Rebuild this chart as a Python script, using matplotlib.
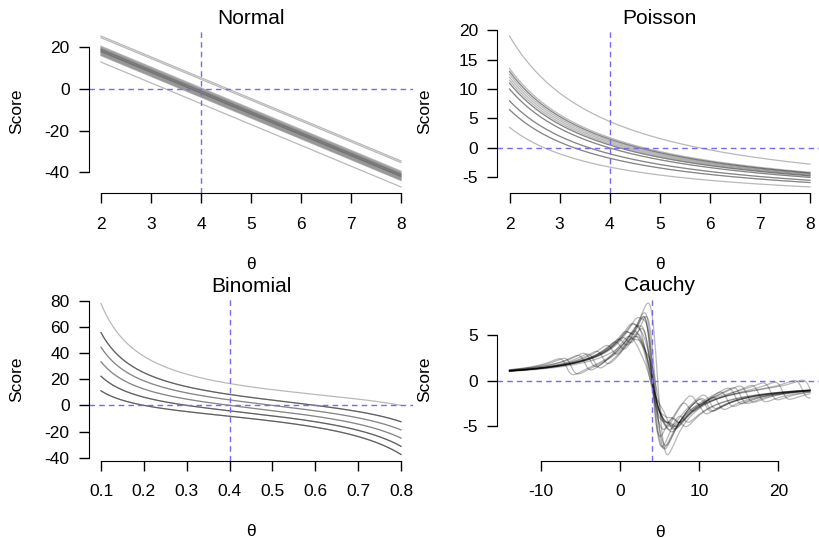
import numpy as np
import matplotlib.pyplot as plt

plt.rcParams['font.family'] = ['Liberation Sans', 'DejaVu Sans']
plt.rcParams['font.size'] = 12.5
plt.rcParams['axes.unicode_minus'] = False

# each panel: 10 observations per simulated sample, true value marked by the dashed lines
n_obs = 10

# Normal: sample means of each simulated sample (sigma = 1)
normal_means = [4.55, 4.47, 4.06, 4.01, 3.97, 3.93, 3.91, 3.88, 3.85, 3.82,
                3.80, 3.77, 3.73, 3.69, 3.65, 3.61, 3.30]
normal_theta0 = 4

# Poisson: sample totals of each simulated sample
poisson_sums = [58, 47, 46, 46, 45, 44, 43, 42, 42, 40, 40, 36, 36, 33, 33, 27]
poisson_theta0 = 4

# Binomial: number of successes out of 10 trials, one per sample
binom_successes = [8, 6, 6, 6, 5, 5, 4, 4, 3, 3, 3, 2, 2, 2]
binom_theta0 = 0.4

# Cauchy: raw samples (scale = 1)
cauchy_samples = [
    [3.7, 3.9, 4.0, 4.1, 4.2, 4.4, 4.6, 5.0, -6.2, 19.0],
    [1.5, 2.8, 3.6, 4.0, 4.4, 4.9, 6.1, 3.2, 11.3, -3.8],
    [2.6, 3.1, 3.7, 4.1, 4.3, 4.8, 5.5, 6.7, 0.4, 15.2],
    [3.5, 3.8, 3.9, 4.0, 4.1, 4.3, 4.5, 4.8, 1.2, 8.0],
    [2.2, 2.9, 3.5, 4.1, 4.7, 5.3, 6.4, 14.5, -4.5, 3.9],
    [3.6, 3.9, 4.0, 4.2, 4.4, 4.6, 4.9, 5.4, 2.5, 10.8],
    [1.8, 2.5, 3.2, 3.8, 4.1, 4.9, 5.7, 6.3, 23.0, -1.0],
    [3.9, 4.0, 4.2, 4.3, 4.5, 4.7, 4.8, 5.1, 11.0, 0.9],
    [2.7, 3.3, 4.0, 4.2, 4.5, 5.6, 6.9, 16.0, -6.8, 3.0],
    [3.4, 3.8, 4.1, 4.3, 4.8, 5.2, 6.0, 7.8, 1.9, 2.8],
    [2.3, 3.0, 3.9, 4.4, 4.6, 5.0, 5.5, 12.4, 9.5, -2.2],
    [3.1, 3.6, 3.9, 4.2, 4.5, 5.1, 6.6, 20.5, 1.4, 4.0],
    [3.6, 3.8, 3.9, 4.0, 4.1, 4.2, 4.4, 7.0, -3.3, 24.0],
    [3.3, 3.7, 4.0, 4.3, 4.9, 5.4, 6.2, 10.2, 2.0, 3.5],
    [2.4, 3.2, 3.5, 4.1, 4.4, 4.8, 5.6, 8.6, 0.0, 13.5],
    [4.1, 4.3, 4.5, 4.6, 4.7, 4.8, 5.0, 5.2, 5.5, 17.5],
]
cauchy_theta0 = 4

line_col = (0, 0, 0, 0.28)
ref_col = '#7b68ee'
W, H = 819, 538


def rect(left, right, top, bottom):
    return [left / W, 1 - bottom / H, (right - left) / W, (bottom - top) / H]


def r_style(ax, xticks, yticks, title, xs, ys, theta0):
    # R-like: 4% padding, axes only over the tick range, no box
    x0, x1 = min(xs), max(xs)
    y0, y1 = min(ys), max(ys)
    dx, dy = 0.04 * (x1 - x0), 0.04 * (y1 - y0)
    ax.set_xlim(x0 - dx, x1 + dx)
    ax.set_ylim(y0 - dy, y1 + dy)
    ax.axhline(0, color=ref_col, ls=(0, (4, 3)), lw=1)
    ax.axvline(theta0, color=ref_col, ls=(0, (4, 3)), lw=1)
    ax.set_xticks(xticks)
    ax.set_yticks(yticks)
    ax.spines['top'].set_visible(False)
    ax.spines['right'].set_visible(False)
    ax.spines['left'].set_bounds(yticks[0], yticks[-1])
    ax.spines['bottom'].set_bounds(xticks[0], xticks[-1])
    ax.tick_params(axis='x', length=7, width=1, pad=10)
    ax.tick_params(axis='y', length=7, width=1, pad=7)
    ax.set_title(title, fontsize=15, pad=4)
    ax.set_ylabel('Score')
    ax.yaxis.set_label_coords(-0.2, 0.5)
    ax.set_xlabel('θ')
    ax.xaxis.set_label_coords(0.5, -0.39)


fig = plt.figure(figsize=(W / 100, H / 100), dpi=100)

# Normal
ax = fig.add_axes(rect(89, 413, 30, 193))
th = np.linspace(2, 8, 200)
ys = []
for m in normal_means:
    s = n_obs * (m - th)
    ax.plot(th, s, color=line_col, lw=0.9)
    ys += [s.min(), s.max()]
r_style(ax, np.arange(2, 9), [-40, -20, 0, 20], 'Normal', th, ys, normal_theta0)

# Poisson
ax = fig.add_axes(rect(497.5, 822, 30, 193))
ys = []
for tot in poisson_sums:
    s = tot / th - n_obs
    ax.plot(th, s, color=line_col, lw=0.9)
    ys += [s.min(), s.max()]
r_style(ax, np.arange(2, 9), [-5, 0, 5, 10, 15, 20], 'Poisson', th, ys, poisson_theta0)

# Binomial
ax = fig.add_axes(rect(89, 413, 297.5, 460.5))
tb = np.linspace(0.1, 0.8, 200)
ys = []
for k in binom_successes:
    s = k / tb - (n_obs - k) / (1 - tb)
    ax.plot(tb, s, color=line_col, lw=0.9)
    ys += [s.min(), s.max()]
r_style(ax, [0.1, 0.2, 0.3, 0.4, 0.5, 0.6, 0.7, 0.8], [-40, -20, 0, 20, 40, 60, 80],
        'Binomial', tb, ys, binom_theta0)

# Cauchy
ax = fig.add_axes(rect(497.5, 822, 297, 460.7))
tc = np.linspace(-14, 24, 600)
ys = []
for smp in cauchy_samples:
    d = np.array(smp)[:, None] - tc[None, :]
    s = (2 * d / (1 + d ** 2)).sum(axis=0)
    ax.plot(tc, s, color=line_col, lw=0.9)
    ys += [s.min(), s.max()]
r_style(ax, [-10, 0, 10, 20], [-5, 0, 5], 'Cauchy', tc, ys, cauchy_theta0)

fig.savefig('out.png', dpi=100)
